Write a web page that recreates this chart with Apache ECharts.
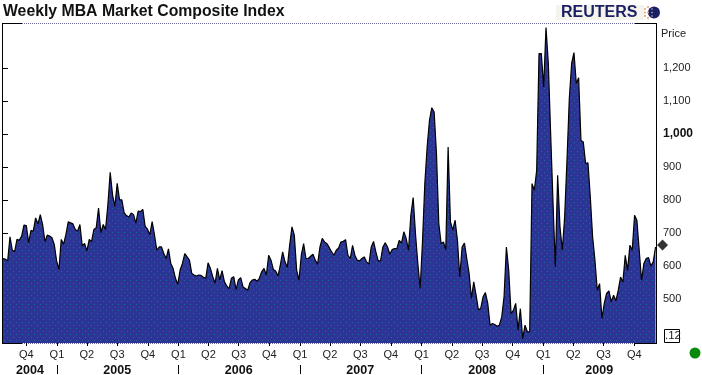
<!DOCTYPE html>
<html><head><meta charset="utf-8">
<style>html,body{margin:0;padding:0;background:#fff}#c{width:702px;height:375px}</style>
<script src="https://cdn.jsdelivr.net/npm/echarts@6/dist/echarts.min.js"></script>
</head><body><div id="c"></div>
<script>
const titleText = 'Weekly MBA Market Composite Index';
const firstWeek = [2004, 6, 23];
const values = [
623,621,616,689,648,644,681,678,691,724,723,671,708,706,746,728,756,726,674,694,691,686,666,616,590,681,666,696,734,731,728,711,706,726,661,669,646,681,674,711,716,776,701,726,711,786,884,816,781,851,801,801,761,753,749,761,756,
730,767,765,772,720,712,695,735,695,648,658,658,638,623,652,608,593,563,545,588,608,638,628,618,578,573,570,573,572,566,563,610,593,568,548,593,558,586,553,540,531,563,568,529,558,565,537,532,527,550,558,560,554,563,583,593,573,633,
618,590,585,570,603,643,613,596,663,719,694,588,557,633,668,623,623,630,636,618,606,658,684,673,668,656,643,633,648,655,673,675,680,633,623,663,633,618,616,623,628,613,606,658,675,643,616,616,658,671,658,636,650,653,653,678,670,704,
684,648,754,808,698,608,532,673,850,961,1042,1080,1067,941,729,668,673,650,961,734,709,739,678,567,658,670,623,578,502,552,512,467,472,507,520,487,421,426,423,418,421,446,507,658,588,456,466,487,406,
471,380,421,401,401,850,830,890,1244,1244,1143,1323,1214,1000,795,598,875,719,648,749,921,1108,1214,1247,1153,1171,981,976,911,913,810,689,618,527,547,441,487,517,525,492,512,495,527,567,552,633,587,663,648,754,739,648,557,608,623,626,600,613,658
];
const lastMark = 664;
const quarterTicks = [[2004,9,1,'Q4'],[2005,0,1,'Q1'],[2005,3,1,'Q2'],[2005,6,1,'Q3'],[2005,9,1,'Q4'],[2006,0,1,'Q1'],[2006,3,1,'Q2'],[2006,6,1,'Q3'],[2006,9,1,'Q4'],[2007,0,1,'Q1'],[2007,3,1,'Q2'],[2007,6,1,'Q3'],[2007,9,1,'Q4'],[2008,0,1,'Q1'],[2008,3,1,'Q2'],[2008,6,1,'Q3'],[2008,9,1,'Q4'],[2009,0,1,'Q1'],[2009,3,1,'Q2'],[2009,6,1,'Q3'],[2009,9,1,'Q4']];
const yearStarts = [2005,2006,2007,2008,2009];
const yearLabels = [[2004,9,12,'2004'],[2005,6,1,'2005'],[2006,6,1,'2006'],[2007,6,1,'2007'],[2008,6,1,'2008'],[2009,5,18,'2009']];
const priceTicks = [400,500,600,700,800,900,1000,1100,1200];
const boxLabel = '.12';

const WEEK = 7*864e5;
const t0 = Date.UTC(firstWeek[0], firstWeek[1], firstWeek[2]);
const weekOf = (y,m,d)=>(Date.UTC(y,m,d)-t0)/WEEK;
const series = values.map((v,i)=>[i, v]);
const qPos = quarterTicks.map(q=>weekOf(q[0],q[1],q[2]));
const yPos = yearLabels.map(q=>weekOf(q[0],q[1],q[2]));
const lookup = (pos,src,v)=>{const k=pos.findIndex(p=>Math.abs(p-v)<1e-6);return k<0?'':src[k][3]};

const pat = document.createElement('canvas'); pat.width=6; pat.height=6;
const g = pat.getContext('2d');
g.fillStyle='#2c3596'; g.fillRect(0,0,6,6);
g.fillStyle='#1d6d9a'; g.fillRect(1,1,1,1); g.fillRect(4,4,1,1);

const FONT='"Liberation Sans", Arial, sans-serif';
const seg=(x1,y1,x2,y2,stroke,dash)=>({type:'line',shape:{x1,y1,x2,y2},silent:true,style:{stroke,lineWidth:1,lineDash:dash||null}});
const dot=(x,y,r,fill)=>({type:'circle',shape:{cx:x,cy:y,r},silent:true,style:{fill}});

const chart = echarts.init(document.getElementById('c'),null,{renderer:'canvas'});
chart.setOption({
  animation:false,
  backgroundColor:'#fff',
  title:{text:titleText,left:3,top:4,padding:0,textStyle:{fontFamily:FONT,fontSize:15.8,fontWeight:'bold',color:'#111'}},
  grid:{left:3,right:46,top:24,bottom:32,show:false,outerBoundsMode:'none'},
  xAxis:[{
    type:'value',min:0,max:280.2,position:'bottom',
    axisLine:{show:false},splitLine:{show:false},
    axisTick:{show:true,length:3,lineStyle:{color:'#000'},customValues:qPos},
    axisLabel:{show:true,customValues:qPos,formatter:v=>lookup(qPos,quarterTicks,v),margin:6,fontFamily:FONT,fontSize:11,color:'#222',hideOverlap:false,showMinLabel:true,showMaxLabel:true}
  },{
    type:'value',min:0,max:280.2,position:'bottom',offset:31,
    axisLine:{show:false},splitLine:{show:false},
    axisTick:{show:true,inside:true,length:9,lineStyle:{color:'#000'},customValues:yearStarts.map(y=>weekOf(y,0,1))},
    axisLabel:{show:true,inside:true,customValues:yPos,formatter:v=>lookup(yPos,yearLabels,v),margin:-3,fontFamily:FONT,fontSize:12.5,fontWeight:'bold',color:'#111',hideOverlap:false}
  }],
  yAxis:[{
    type:'value',min:367,max:1333.7,position:'right',
    axisLine:{show:false},splitLine:{show:false},
    axisTick:{show:true,length:5,lineStyle:{color:'#000'},customValues:priceTicks},
    axisLabel:{show:true,customValues:priceTicks,margin:7,fontFamily:FONT,fontSize:11,color:'#222',
      formatter:v=>{
        if(v===400) return '';
        const s=String(v).replace(/\B(?=(\d{3})+$)/g,',');
        return v===1000?'{b|'+s+'}':s;
      },
      rich:{b:{fontFamily:FONT,fontSize:12,fontWeight:'bold',color:'#111'}}}
  }],
  series:[{
    type:'line',data:series,showSymbol:false,symbol:'none',smooth:false,
    lineStyle:{color:'#000',width:1.2},
    areaStyle:{color:{image:pat,repeat:'repeat'},opacity:1,origin:'start'},
    itemStyle:{color:'#000'},z:2
  },{
    type:'scatter',data:[[values.length-1,lastMark]],symbol:'diamond',symbolSize:[11,11],symbolOffset:[7,0],clip:false,
    itemStyle:{color:'#000'},silent:true,z:3
  }],
  graphic:[
    seg(2.5,23.5,2.5,343.5,'#000'),
    seg(656.5,23.5,656.5,343.5,'#000'),
    seg(2,23.5,22,23.5,'#000'),
    seg(635,23.5,657,23.5,'#000'),
    seg(22,23.5,635,23.5,'#6a6a9a',[1,1]),
    seg(2,343.5,22,343.5,'#000'),
    seg(635,343.5,657,343.5,'#000'),
    seg(22,343.5,635,343.5,'#6a6a9a',[1,1]),
    {type:'text',left:661,top:28,silent:true,style:{text:'Price',fontFamily:FONT,fontSize:11,fill:'#222'}},
    {type:'rect',shape:{x:664.5,y:329.5,width:15,height:13},silent:true,style:{fill:'#fff',stroke:'#000',lineWidth:1}},
    {type:'text',left:665,top:330,silent:true,style:{text:boxLabel,fontFamily:FONT,fontSize:11.5,fill:'#222'}},
    {type:'rect',shape:{x:556,y:5,width:88,height:15},silent:true,style:{fill:'#f4f4ec'}},
    {type:'text',left:561,top:5,silent:true,style:{text:'REUTERS',fontFamily:FONT,fontSize:16,fontWeight:'bold',fill:'#1a1f63'}},
    dot(654,12.5,6,'#1a1f63'),
    dot(645,9,1,'#e8a070'),dot(645,12.5,1,'#e8a070'),dot(645,16,1,'#e8a070'),dot(648,7,1,'#e8a070'),dot(648,12.5,1,'#e8a070'),dot(648,18,1,'#e8a070'),
    dot(652,9,0.7,'#cfd3ef'),dot(652,12.5,0.7,'#cfd3ef'),dot(652,16,0.7,'#cfd3ef'),
    dot(695,353,5.5,'#078a0a')
  ]
});
</script></body></html>
